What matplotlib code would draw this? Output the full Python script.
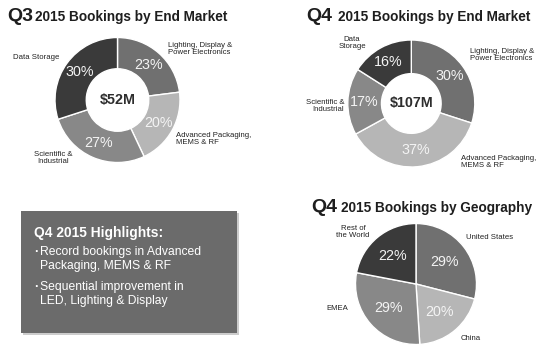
import matplotlib
matplotlib.use("Agg")
import matplotlib.pyplot as plt
from matplotlib.patches import Rectangle

plt.rcParams['font.family'] = ['Liberation Sans', 'DejaVu Sans']

W, H = 542, 347

# ---- data ----
q3_labels = ["Lighting, Display &\nPower Electronics", "Advanced Packaging,\nMEMS & RF",
             "Scientific &\nIndustrial", "Data Storage"]
q3_values = [23, 20, 27, 30]
q3_total = "$52M"

q4_labels = ["Lighting, Display &\nPower Electronics", "Advanced Packaging,\nMEMS & RF",
             "Scientific &\nIndustrial", "Data\nStorage"]
q4_values = [30, 37, 17, 16]
q4_total = "$107M"

geo_labels = ["United States", "China", "EMEA", "Rest of\nthe World"]
geo_values = [29, 20, 29, 22]

highlight_title = "Q4 2015 Highlights:"
highlight_items = ["Record bookings in Advanced\nPackaging, MEMS & RF",
                   "Sequential improvement in\nLED, Lighting & Display"]

colors = ["#707070", "#b6b6b6", "#888888", "#3a3a3a"]

fig = plt.figure(figsize=(W / 100, H / 100), dpi=100)
fig.patch.set_facecolor("white")

# overlay axes in pixel coordinates
ov = fig.add_axes([0, 0, 1, 1])
ov.set_xlim(0, W)
ov.set_ylim(H, 0)
ov.axis("off")
ov.set_zorder(5)


def draw(cx, cy, r, values, donut, pctd, total=None, hole=0.5, h=80):
    ax = fig.add_axes([(cx - h) / W, 1 - (cy + h) / H, 2 * h / W, 2 * h / H])
    wp = dict(edgecolor="white", linewidth=1.0)
    if donut:
        wp["width"] = 1 - hole
    ax.pie(values, colors=colors, startangle=90, counterclock=False,
           wedgeprops=wp, autopct=lambda p: "%d%%" % round(p),
           pctdistance=pctd,
           textprops=dict(color="#f4f4f4", fontsize=10.3))
    ax.set_aspect("auto")
    ax.set_xlim(-h / r, h / r)
    ax.set_ylim(-h / r, h / r)
    ax.axis("off")
    if total:
        ax.text(0, 0, total, ha="center", va="center", fontsize=10.3, fontweight="bold", color="#2e2e2e")
    return ax


draw(117.5, 100, 62.5, q3_values, True, 0.75, q3_total, hole=0.5)
draw(411.3, 103.5, 63.5, q4_values, True, 0.74, q4_total, hole=0.47)
draw(416, 284, 60.5, geo_values, False, 0.6)

lab = dict(fontsize=5.6, color="#222222", linespacing=1.15)

# Q3 labels
ov.text(168, 49, q3_labels[0], ha="left", va="center", **lab)
ov.text(176, 139, q3_labels[1], ha="left", va="center", **lab)
ov.text(53, 158, q3_labels[2], ha="center", va="center", multialignment="center", **lab)
ov.text(13, 57, q3_labels[3], ha="left", va="center", **lab)

# Q4 labels
ov.text(470, 55, q4_labels[0], ha="left", va="center", **lab)
ov.text(461, 162, q4_labels[1], ha="left", va="center", **lab)
ov.text(344, 106, q4_labels[2], ha="right", va="center", multialignment="right", **lab)
ov.text(352, 43, q4_labels[3], ha="center", va="center", multialignment="center", **lab)

# Geo labels
ov.text(466, 237, geo_labels[0], ha="left", va="center", **lab)
ov.text(461, 339, geo_labels[1], ha="left", va="center", **lab)
ov.text(326, 308, geo_labels[2], ha="left", va="center", **lab)
ov.text(353, 232, geo_labels[3], ha="center", va="center", multialignment="center", **lab)

# Titles
tc = "#1e1e1e"
ov.text(7, 21, "Q3", ha="left", va="baseline", fontsize=14, fontweight="bold", color=tc)
ov.text(35, 21, "2015 Bookings by End Market", ha="left", va="baseline", fontsize=9.8, fontweight="bold", color=tc)
ov.text(306, 21, "Q4", ha="left", va="baseline", fontsize=14, fontweight="bold", color=tc)
ov.text(338, 21, "2015 Bookings by End Market", ha="left", va="baseline", fontsize=9.8, fontweight="bold", color=tc)
ov.text(311, 212, "Q4", ha="left", va="baseline", fontsize=14, fontweight="bold", color=tc)
ov.text(341, 212, "2015 Bookings by Geography", ha="left", va="baseline", fontsize=9.8, fontweight="bold", color=tc)

# Highlights box
ov.add_patch(Rectangle((23, 213), 216, 122, facecolor="#cccccc", edgecolor="none", zorder=1))
ov.add_patch(Rectangle((21, 211), 216, 122, facecolor="#6b6b6b", edgecolor="none", zorder=2))
ov.text(34, 237, highlight_title, ha="left", va="baseline", fontsize=9.9, fontweight="bold",
        color="white", zorder=3)
ys = [259, 294]
for y, item in zip(ys, highlight_items):
    ov.text(34.5, y - 7, "·", ha="left", va="center", fontsize=9, color="white", zorder=3, fontweight="bold")
    ov.text(39.5, y, item, ha="left", va="center", fontsize=8.7, color="white", zorder=3,
            linespacing=1.2)

fig.savefig("out.png", dpi=100, facecolor="white")
